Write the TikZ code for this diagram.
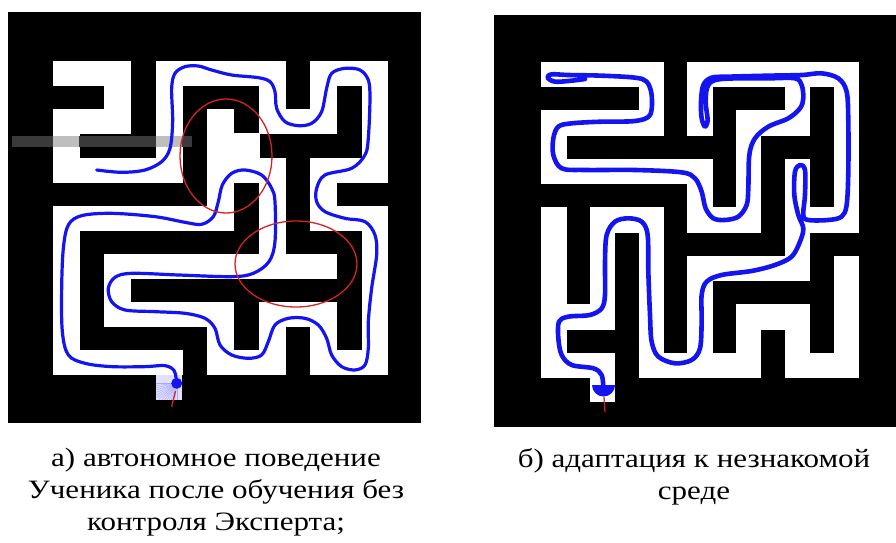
\documentclass[tikz,border=0pt]{standalone}
\usepackage{fontspec}
\setmainfont{Liberation Serif}[FakeStretch=1.17]
\usetikzlibrary{positioning}
\definecolor{trackblue}{RGB}{20,20,240}
\definecolor{markred}{RGB}{215,35,35}
\definecolor{bardark}{RGB}{58,58,58}
\definecolor{barlight}{RGB}{190,190,190}

\begin{document}
\begin{tikzpicture}[
    x=1pt, y=-1pt,
    wall/.style={fill=black},
    cell/.style={fill=white},
    track/.style={draw=trackblue, line width=3.2pt, line cap=round, line join=round},
    ring/.style={draw=markred, line width=1.3pt},
    caption/.style={align=center, anchor=north, font=\fontsize{26.5}{32}\selectfont},
]
\useasboundingbox (0,0) rectangle (896,542);

% Left maze
\fill[wall] (8,12) rectangle (421,423);
\begin{scope}[shift={(53.33,61.67)}, x=25.74pt, y=-24.1pt]
  \foreach \r/\runs in {0/{0/2,4/8,10/12}, 1/{2/2,4/4,8/8,10/10,12/12},
      2/{0/2,4/4,6/6,8/10,12/12}, 3/{0/0,4/4,6/7,12/12}, 4/{0/4,6/8,10/12},
      5/{6/6,8/8,10/10}, 6/{0/6,8/8,10/12}, 7/{0/0,8/8,12/12},
      8/{0/0,2/10,12/12}, 9/{0/0,2/2,12/12}, 10/{0/0,2/6,8/10,12/12},
      11/{0/0,6/6,8/8,10/10,12/12}, 12/{0/4,6/8,10/12}}
    \foreach \a/\b in \runs
      \fill[cell] (\a-0.02,\r-0.02) rectangle (\b+1.02,\r+1.02);
\end{scope}
\fill[blue!12] (156.3,375) rectangle (182.1,399.5);
\begin{scope}
  \clip (156.3,375) rectangle (182.1,399.5);
  \foreach \ang in {90,96,...,180}
    \draw[blue!35, line width=0.4pt] (176.7,383.3) -- ++(\ang:24);
\end{scope}
% grey banner across row 3
\fill[bardark] (12,136) rectangle (192,147);
\fill[barlight] (53.3,136) rectangle (79.1,147);
\fill[barlight] (156.3,136) rectangle (182.1,147);

% Left track (student without expert)
\begin{scope}[shift={(45,55)}, x=0.3333pt, y=-0.3333pt]
  \draw[track] plot[smooth, tension=0.55] coordinates {
    (395,985) (388,948) (360,932) (300,935) (200,935) (120,925) (70,900)
    (52,830) (50,700) (55,580) (70,510) (110,482) (200,475) (330,485)
    (420,502) (470,508) (505,485) (520,440) (532,390) (560,355) (600,345)
    (650,360) (680,400) (690,440) (690,560) (672,620) (625,655) (560,665)
    (400,660) (260,655) (210,667) (190,700) (200,740) (240,765) (330,770)
    (420,775) (480,790) (510,820) (525,870) (560,900) (610,910) (650,900)
    (670,860) (690,810) (730,790) (780,790) (820,810) (845,850) (860,900)
    (890,935) (930,945) (960,930) (970,880) (970,800) (980,700) (995,600)
    (990,540) (960,500) (900,490) (840,470) (815,440) (815,400) (840,360)
    (920,340) (960,300) (970,250) (975,130) (970,75) (945,45) (900,40)
    (860,55) (845,100) (830,170) (800,205) (760,212) (720,200) (695,160)
    (690,110) (675,80) (640,68) (560,60) (500,45) (460,33) (420,35)
    (390,55) (380,100) (383,200) (375,280) (350,320) (300,345) (230,352)
    (155,345)};
\end{scope}
\fill[trackblue] (176.7,383.3) circle (5.5);
\draw[markred, line width=1.3pt] (175.5,391) -- (171.5,407);

% Red marks
\draw[ring] (226,156) ellipse (46 and 57);
\draw[ring] (296,264) ellipse (61 and 43);

% Right maze
\fill[wall] (494,15) rectangle (896,427);
\begin{scope}[shift={(541.7,62.3)}, x=24.36pt, y=-24.26pt]
  \foreach \r/\runs in {0/{0/4,6/12}, 1/{4/4,6/6,10/10,12/12},
      2/{0/4,6/6,8/10,12/12}, 3/{0/0,8/8,12/12}, 4/{0/6,8/8,10/10,12/12},
      5/{6/6,8/8,10/10,12/12}, 6/{0/0,2/4,6/8,10/12}, 7/{0/0,2/2,4/4,10/10},
      8/{0/0,2/2,4/4,6/10,12/12}, 9/{0/0,2/2,4/4,6/6,12/12},
      10/{0/2,4/4,6/6,8/10,12/12}, 11/{0/0,4/4,6/6,8/8,10/10,12/12},
      12/{0/2,4/8,10/12}, 13/{2/2}}
    \foreach \a/\b in \runs
      \fill[cell] (\a-0.02,\r-0.02) rectangle (\b+1.02,\r+1.02);
\end{scope}

% Right track (new environment)
\begin{scope}[shift={(535,55)}, x=0.3333pt, y=-0.3333pt]
  \draw[track, line width=4.6pt] plot[smooth, tension=0.55] coordinates {
    (205,1000) (200,960) (175,940) (110,930) (80,900) (70,850) (72,800)
    (100,785) (165,780) (200,760) (210,720) (210,620) (215,540) (240,500)
    (280,490) (320,500) (338,540) (340,650) (345,780) (350,860) (370,905)
    (420,925) (470,915) (495,880) (500,800) (500,720) (515,680) (560,660)
    (650,648) (720,630) (770,605) (795,560) (805,520) (790,480) (778,420)
    (780,350) (795,330) (810,345) (810,420) (805,480) (820,495) (880,495)
    (920,485) (935,450) (940,350) (940,200) (935,110) (910,70) (860,55)
    (800,60) (700,62) (580,65) (530,68) (505,90) (498,140) (500,190)
    (510,215) (518,195) (512,140) (520,90) (560,72) (700,70) (780,70)
    (800,90) (805,130) (795,160) (760,190) (700,215) (660,250) (643,300)
    (640,400) (635,450) (610,485) (570,495) (535,490) (512,460) (500,410)
    (480,370) (440,352) (300,345) (150,345) (80,340) (55,300) (55,250)
    (70,215) (110,205) (200,200) (300,198) (345,180) (350,120) (335,80)
    (300,68) (200,62) (100,60) (50,58) (38,68) (60,80) (110,77) (150,72)};
\end{scope}
\fill[trackblue] (592,385) arc[start angle=180, end angle=0, radius=11.5] -- cycle;
\draw[markred, line width=1.3pt] (604,397) -- (605,412);

% Captions
\node[caption] (capA) at (216,445) {а) автономное поведение\\Ученика после обучения без\\контроля Эксперта;};
\node[caption] (capB) at (694,445) {б) адаптация к незнакомой\\среде};
\end{tikzpicture}
\end{document}
